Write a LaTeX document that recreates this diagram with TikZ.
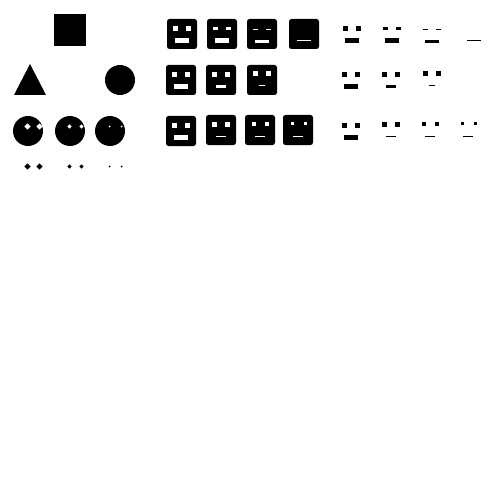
\documentclass[tikz,border=0pt]{standalone}
\tikzset{ink/.style={fill=black,draw=none},hole/.style={fill=white,draw=none},facebox/.style={fill=black,draw=none,rounded corners=2.5pt}}
\newcommand{\bx}[5]{\fill[#1] (#2,#3) rectangle (#4,#5);}
\newcommand{\dm}[4]{\fill[#1] (#2-#4,#3) -- (#2,#3-#4) -- (#2+#4,#3) -- (#2,#3+#4) -- cycle;}
\begin{document}
\begin{tikzpicture}[x=1pt,y=-1pt]
\useasboundingbox (0,0) rectangle (500,500);
\fill[white] (0,0) rectangle (500,500);
% basic shapes
\bx{ink}{54}{14}{86}{46}
\fill[ink] (14,95) -- (30,64) -- (46,95) -- cycle;
\fill[ink] (120,80) circle[radius=15pt];
\fill[ink] (28,131) circle[radius=15pt];
\fill[ink] (70,131) circle[radius=15pt];
\fill[ink] (110,131) circle[radius=15pt];
\dm{hole}{27.5}{126.5}{3.2}\dm{hole}{39.5}{126.5}{3.2}
\dm{hole}{69.5}{126.5}{2.2}\dm{hole}{81.5}{126.5}{2.2}
\dm{hole}{109.5}{126.5}{1}\dm{hole}{121.5}{126.5}{1}
\dm{ink}{27.5}{166.5}{3.2}\dm{ink}{39.5}{166.5}{3.2}
\dm{ink}{69.5}{166.5}{2.2}\dm{ink}{81.5}{166.5}{2.2}
\dm{ink}{109.5}{166.5}{1}\dm{ink}{121.5}{166.5}{1}
% face boxes
\foreach \fx/\fy in {167/19,207/19,247/19,289/19,166/65,206/65,247/65,166/116,206/115,245/115,283/115}
  \fill[facebox] (\fx,\fy) rectangle (\fx+30,\fy+30);
% features: white on faces, black alone 170 to the right
\foreach \sty/\dx in {hole/0,ink/170}{
  \begin{scope}[xshift=\dx pt]
  \bx{\sty}{173}{26}{178}{31}\bx{\sty}{186}{26}{191}{31}\bx{\sty}{175}{38}{189}{43}
  \bx{\sty}{213}{27}{218}{30}\bx{\sty}{226}{27}{231}{30}\bx{\sty}{215}{38}{229}{43}
  \bx{\sty}{253}{29}{258}{30}\bx{\sty}{266}{29}{271}{30}\bx{\sty}{255}{40}{269}{43}
  \bx{\sty}{172}{72}{177}{77}\bx{\sty}{185}{72}{190}{77}\bx{\sty}{174}{84}{188}{89}
  \bx{\sty}{212}{72}{217}{77}\bx{\sty}{225}{72}{230}{77}\bx{\sty}{216}{85}{226}{88}
  \bx{\sty}{253}{71}{258}{76}\bx{\sty}{266}{71}{271}{76}\bx{\sty}{259}{85}{265}{86}
  \bx{\sty}{172}{123}{177}{128}\bx{\sty}{185}{123}{190}{128}\bx{\sty}{174}{135}{188}{140}
  \bx{\sty}{212}{122}{217}{127}\bx{\sty}{225}{122}{230}{127}\bx{\sty}{216}{136}{226}{137}
  \end{scope}
}
% remaining features with their own offsets
\bx{hole}{297}{40}{311}{41}
\bx{ink}{467}{40}{481}{41}
\bx{hole}{252}{122}{256}{126}\bx{hole}{265}{122}{269}{126}\bx{hole}{255}{136}{265}{137}
\bx{ink}{422}{122}{426}{126}\bx{ink}{435}{122}{439}{126}\bx{ink}{425}{136}{435}{137}
\bx{hole}{291}{122}{294}{125}\bx{hole}{304}{122}{307}{125}\bx{hole}{293}{136}{303}{137}
\bx{ink}{461}{122}{464}{125}\bx{ink}{474}{122}{477}{125}\bx{ink}{463}{136}{473}{137}
\end{tikzpicture}
\end{document}
